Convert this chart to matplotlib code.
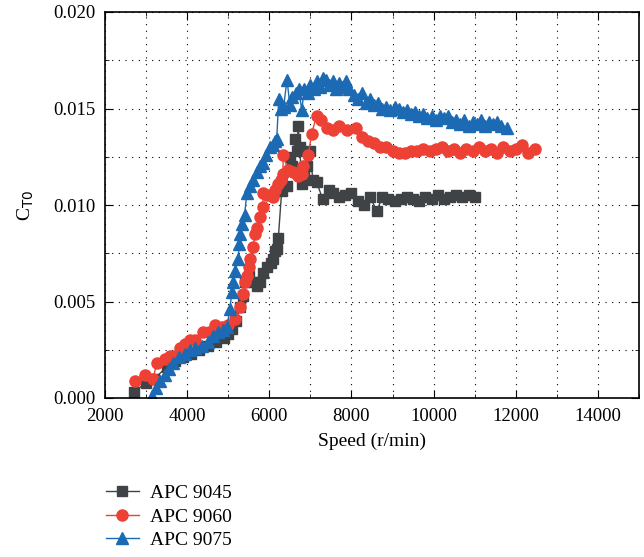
import numpy as np
import matplotlib
matplotlib.use('Agg')
import matplotlib.pyplot as plt
from matplotlib.ticker import MultipleLocator, FormatStrFormatter

plt.rcParams['font.family'] = ['Liberation Serif', 'DejaVu Serif']

# APC 9045
x_9045 = [2700, 3000, 3200, 3500, 3700, 3900, 4100, 4300, 4500, 4700,
          4900, 5000, 5100, 5200, 5280, 5350, 5420, 5500, 5600, 5700,
          5770, 5850, 5950, 6050, 6100, 6150, 6180, 6220, 6300, 6420,
          6500, 6560, 6620, 6680, 6700, 6740, 6790, 6850, 6910, 6990,
          7060, 7150, 7300, 7450, 7550, 7700, 7850, 8000, 8150, 8300,
          8450, 8620, 8750, 8900, 9050, 9200, 9350, 9500, 9650, 9800,
          9950, 10100, 10250, 10400, 10550, 10700, 10850, 11000]
y_9045 = [0.0003, 0.0008, 0.0010, 0.0016, 0.0019, 0.0021, 0.0023, 0.0025, 0.0027, 0.0029,
          0.0031, 0.0033, 0.0036, 0.0040, 0.0047, 0.0053, 0.0060, 0.0063, 0.0060, 0.0058,
          0.0060, 0.0065, 0.0068, 0.0070, 0.0072, 0.0076, 0.0077, 0.0083, 0.0107, 0.0110,
          0.0125, 0.0120, 0.0134, 0.0128, 0.0141, 0.0130, 0.0111, 0.0115, 0.0120, 0.0128,
          0.0113, 0.0112, 0.0103, 0.0108, 0.0106, 0.0104, 0.0105, 0.0106, 0.0102, 0.0100,
          0.0104, 0.0097, 0.0104, 0.0103, 0.0102, 0.0103, 0.0104, 0.0103, 0.0102, 0.0104,
          0.0103, 0.0105, 0.0103, 0.0104, 0.0105, 0.0104, 0.0105, 0.0104]

# APC 9060
x_9060 = [2730, 2970, 3170, 3260, 3450, 3580, 3700, 3820, 3950, 4070,
          4200, 4380, 4530, 4680, 4850, 5000, 5160, 5280, 5360, 5400,
          5450, 5500, 5530, 5600, 5650, 5700, 5770, 5840, 5850, 5950,
          6090, 6150, 6210, 6280, 6330, 6340, 6450, 6580, 6700, 6790,
          6820, 6950, 7030, 7150, 7250, 7400, 7550, 7700, 7900, 8100,
          8250, 8400, 8550, 8700, 8850, 9000, 9150, 9300, 9450, 9600,
          9750, 9900, 10050, 10200, 10350, 10500, 10650, 10800, 10950, 11100,
          11250, 11400, 11550, 11700, 11850, 12000, 12150, 12300, 12460]
y_9060 = [0.0009, 0.0012, 0.0010, 0.0018, 0.0020, 0.0022, 0.0022, 0.0026, 0.0028, 0.0030,
          0.0030, 0.0034, 0.0034, 0.0038, 0.0037, 0.0038, 0.0041, 0.0047, 0.0054, 0.0060,
          0.0063, 0.0068, 0.0072, 0.0078, 0.0085, 0.0088, 0.0094, 0.0099, 0.0106, 0.0105,
          0.0104, 0.0108, 0.0111, 0.0113, 0.0116, 0.0126, 0.0118, 0.0117, 0.0115, 0.0116,
          0.0120, 0.0126, 0.0137, 0.0146, 0.0144, 0.0140, 0.0139, 0.0141, 0.0139, 0.0140,
          0.0135, 0.0133, 0.0132, 0.0130, 0.0130, 0.0128, 0.0127, 0.0127, 0.0128, 0.0128,
          0.0129, 0.0128, 0.0129, 0.0130, 0.0128, 0.0129, 0.0127, 0.0129, 0.0128, 0.0130,
          0.0128, 0.0129, 0.0127, 0.0130, 0.0128, 0.0129, 0.0131, 0.0127, 0.0129]

# APC 9075
x_9075 = [3135, 3250, 3340, 3450, 3550, 3660, 3800, 3950, 4070, 4200,
          4350, 4500, 4630, 4750, 4880, 4970, 5040, 5090, 5120, 5170,
          5240, 5270, 5290, 5340, 5400, 5450, 5520, 5600, 5700, 5780,
          5850, 5930, 6010, 6080, 6130, 6180, 6230, 6280, 6350, 6430,
          6500, 6560, 6640, 6720, 6790, 6850, 6930, 7000, 7080, 7150,
          7230, 7300, 7380, 7460, 7540, 7620, 7700, 7780, 7860, 7950,
          8050, 8150, 8250, 8350, 8450, 8550, 8650, 8750, 8850, 8950,
          9050, 9150, 9250, 9350, 9450, 9550, 9650, 9750, 9850, 9950,
          10050, 10150, 10250, 10350, 10450, 10550, 10650, 10750, 10850, 10950,
          11050, 11150, 11250, 11350, 11450, 11550, 11650, 11780]
y_9075 = [0.0001, 0.0005, 0.0009, 0.0012, 0.0015, 0.0018, 0.0021, 0.0023, 0.0025, 0.0026,
          0.0027, 0.0029, 0.0032, 0.0034, 0.0035, 0.0037, 0.0046, 0.0055, 0.0060, 0.0066,
          0.0072, 0.0080, 0.0085, 0.0090, 0.0095, 0.0106, 0.0110, 0.0113, 0.0117, 0.0120,
          0.0122, 0.0126, 0.0130, 0.0131, 0.0133, 0.0134, 0.0155, 0.0150, 0.0151, 0.0165,
          0.0152, 0.0156, 0.0158, 0.0160, 0.0149, 0.0160, 0.0158, 0.0162, 0.0160, 0.0164,
          0.0161, 0.0166, 0.0165, 0.0162, 0.0164, 0.0160, 0.0163, 0.0161, 0.0164, 0.0160,
          0.0157, 0.0155, 0.0158, 0.0153, 0.0155, 0.0152, 0.0153, 0.0150, 0.0151, 0.0149,
          0.0151, 0.0150, 0.0148, 0.0149, 0.0147, 0.0148, 0.0146, 0.0147, 0.0145, 0.0146,
          0.0144, 0.0146, 0.0145, 0.0146, 0.0143, 0.0144, 0.0142, 0.0144, 0.0141, 0.0143,
          0.0142, 0.0144, 0.0141, 0.0143, 0.0142, 0.0143, 0.0141, 0.0140]

fig = plt.figure(figsize=(6.44, 5.57), dpi=100)
ax = fig.add_axes([105/644, 1 - 398/557, 534/644, 386/557])

ax.plot(x_9045, y_9045, '-s', color='#404345', ms=7, lw=1, label='APC 9045')
ax.plot(x_9060, y_9060, '-o', color='#ee4136', ms=8, lw=1, label='APC 9060')
ax.plot(x_9075, y_9075, '-^', color='#1c6ab3', ms=8, lw=1, label='APC 9075')

ax.set_xlim(2000, 15000)
ax.set_ylim(0, 0.02)
ax.xaxis.set_major_locator(MultipleLocator(2000))
ax.xaxis.set_minor_locator(MultipleLocator(1000))
ax.yaxis.set_major_locator(MultipleLocator(0.005))
ax.yaxis.set_minor_locator(MultipleLocator(0.0025))
ax.yaxis.set_major_formatter(FormatStrFormatter('%.3f'))
ax.tick_params(which='both', direction='in', top=True, right=True, labelsize=13.5)
ax.tick_params(which='major', length=6, pad=7)
ax.tick_params(which='minor', length=3)
ax.grid(which='both', linestyle=(0, (1, 5)), color='black', lw=0.8)
for s in ax.spines.values():
    s.set_linewidth(1.2)

ax.set_xlabel('Speed (r/min)', fontsize=14, labelpad=6)
ax.set_ylabel('C$_{\\mathrm{T0}}$', fontsize=14, labelpad=12)

fig.legend(loc='upper left', bbox_to_anchor=(88/644, 1 - 467/557), frameon=False,
           fontsize=14, handlelength=1.7, handletextpad=0.6, labelspacing=0.3)

fig.savefig('out.png', dpi=100)
